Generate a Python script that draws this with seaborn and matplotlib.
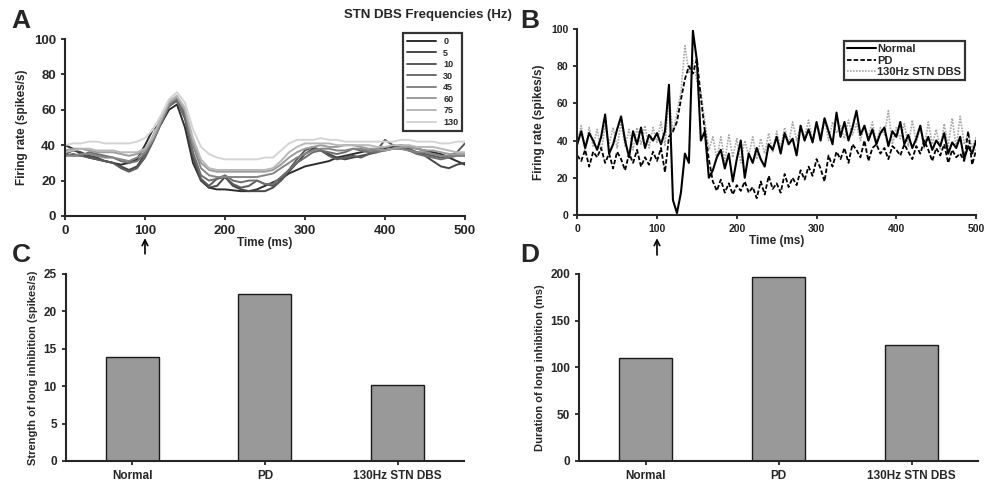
import numpy as np
import pandas as pd
import seaborn as sns
import matplotlib.pyplot as plt
from matplotlib.lines import Line2D

# ---- panel A: mean firing rate per STN DBS frequency (sampled every 10 ms)
t_a = list(range(0, 501, 10))
freqs = ['0', '5', '10', '30', '45', '60', '75', '130']
rate_0 = [40, 38, 35, 33, 32, 31, 30, 29, 30, 32, 40, 49, 52, 60, 63, 50, 30, 20, 16, 15, 15, 14.5, 14, 14, 15, 17,
          19, 21, 24, 26, 28, 29, 30, 31, 33, 34, 35, 36, 37, 38, 39, 39, 40, 39, 38, 37, 36, 35, 33, 31, 29]
rate_5 = [35, 37, 36, 34, 33, 31, 30, 28, 26, 28, 35, 45, 55, 63, 65, 55, 33, 20, 16, 17, 22, 17, 15, 14, 14, 14,
          16, 20, 25, 30, 35, 38, 37, 35, 33, 32, 33, 34, 35, 36, 38, 40, 39, 37, 36, 34, 31, 28, 27, 29, 30]
rate_10 = [34, 35, 34, 33, 32, 31, 30, 27, 25, 27, 33, 42, 52, 62, 66, 57, 35, 21, 17, 21, 22, 18, 16, 17, 20, 18,
           17, 20, 26, 32, 37, 39, 37, 34, 32, 33, 34, 33, 35, 37, 43, 40, 38, 38, 36, 35, 34, 33, 34, 36, 41]
rate_30 = [35, 34, 34, 36, 35, 34, 33, 31, 30, 31, 35, 43, 53, 62, 65, 56, 36, 23, 20, 21, 23, 20, 19, 20, 20, 18,
           18, 22, 26, 30, 33, 36, 37, 36, 35, 36, 38, 37, 36, 36, 37, 38, 38, 37, 35, 34, 33, 32, 33, 34, 34]
rate_45 = [34, 34, 35, 35, 34, 33, 33, 32, 31, 33, 36, 43, 53, 63, 67, 59, 40, 27, 23, 22, 22, 22, 22, 22, 22, 23,
           24, 27, 30, 33, 35, 37, 38, 38, 37, 37, 38, 38, 37, 37, 37, 38, 38, 37, 36, 36, 35, 34, 34, 34, 34]
rate_60 = [37, 38, 38, 37, 36, 36, 36, 35, 34, 35, 37, 44, 54, 64, 67, 60, 42, 30, 26, 25, 25, 25, 25, 25, 25, 25,
           26, 29, 33, 36, 38, 39, 40, 39, 39, 40, 40, 39, 38, 38, 37, 38, 39, 39, 38, 37, 37, 36, 35, 35, 35]
rate_75 = [36, 37, 38, 38, 37, 37, 37, 36, 36, 36, 38, 45, 55, 65, 68, 61, 44, 32, 27, 26, 26, 26, 26, 26, 26, 26,
           27, 31, 36, 39, 41, 41, 41, 41, 40, 40, 40, 40, 40, 39, 39, 40, 40, 40, 39, 39, 39, 38, 37, 36, 36]
rate_130 = [40, 41, 41, 42, 42, 41, 41, 41, 41, 42, 44, 49, 57, 66, 70, 64, 49, 39, 35, 33, 32, 32, 32, 32, 32, 33,
            33, 37, 41, 43, 43, 43, 44, 43, 43, 42, 42, 42, 42, 42, 42, 42, 43, 43, 42, 42, 42, 41, 41, 42, 42]
rates_a = [rate_0, rate_5, rate_10, rate_30, rate_45, rate_60, rate_75, rate_130]
grays = ['#2e2e2e', '#474747', '#5a5a5a', '#6e6e6e', '#858585', '#9c9c9c', '#b8b8b8', '#d4d4d4']

# ---- panel B: single examples (sampled every 5 ms)
t_b = list(range(0, 501, 5))
normal = [38, 45, 36, 44, 40, 35, 42, 54, 33, 38, 46, 53, 40, 31, 45, 38, 47, 36, 43, 40, 44, 38, 45, 70, 8, 1,
          12, 33, 28, 99, 83, 40, 45, 20, 24, 31, 35, 25, 33, 18, 30, 40, 20, 33, 28, 36, 30, 26, 38, 35, 42,
          33, 44, 38, 41, 32, 48, 40, 46, 39, 50, 40, 52, 45, 38, 55, 42, 50, 40, 47, 56, 43, 48, 40, 46, 38,
          44, 47, 37, 45, 42, 50, 38, 43, 36, 41, 48, 37, 42, 35, 40, 37, 44, 33, 39, 36, 42, 30, 37, 33, 40]
pd_rate = [32, 29, 35, 26, 34, 31, 36, 28, 33, 25, 34, 30, 24, 33, 28, 35, 26, 31, 27, 34, 29, 36, 23, 42, 45, 50,
           62, 73, 80, 76, 84, 63, 45, 30, 18, 13, 19, 12, 17, 11, 16, 13, 18, 12, 15, 9, 18, 11, 21, 14, 17,
           12, 22, 15, 20, 16, 24, 19, 26, 21, 30, 25, 18, 32, 26, 34, 30, 36, 28, 38, 35, 31, 40, 29, 36, 38,
           33, 36, 30, 37, 35, 32, 38, 34, 30, 37, 33, 40, 35, 29, 36, 32, 38, 28, 35, 31, 33, 29, 45, 27, 35]
dbs_rate = [38, 48, 35, 47, 37, 46, 34, 48, 38, 47, 36, 50, 37, 46, 35, 47, 38, 48, 36, 47, 39, 50, 37, 64, 44, 55,
            66, 91, 76, 83, 72, 66, 50, 35, 42, 30, 42, 29, 43, 31, 41, 28, 40, 32, 42, 30, 41, 33, 44, 34, 45,
            36, 47, 38, 50, 40, 48, 42, 51, 40, 49, 43, 52, 40, 50, 44, 48, 41, 51, 43, 49, 40, 48, 42, 50, 39,
            47, 43, 56, 38, 47, 41, 49, 37, 51, 39, 47, 36, 50, 38, 46, 35, 49, 37, 52, 36, 53, 38, 44, 36, 42]

# ---- panels C / D
groups = ['Normal', 'PD', '130Hz STN DBS']
strength = [13.9, 22.3, 10.1]
duration = [110, 197, 124]

sns.set_style('ticks')
plt.rcParams['font.family'] = ['Liberation Sans', 'DejaVu Sans']
plt.rcParams['font.weight'] = 'bold'
plt.rcParams['axes.labelweight'] = 'bold'
plt.rcParams['axes.linewidth'] = 1.5
plt.rcParams['xtick.major.width'] = 1.3
plt.rcParams['ytick.major.width'] = 1.3
plt.rcParams['xtick.major.size'] = 3
plt.rcParams['ytick.major.size'] = 3

fig = plt.figure(figsize=(9.85, 4.82), dpi=100)
ax_a = fig.add_axes([0.066, 0.552, 0.406, 0.367])
ax_b = fig.add_axes([0.586, 0.554, 0.405, 0.386])
ax_c = fig.add_axes([0.067, 0.0436, 0.404, 0.388])
ax_d = fig.add_axes([0.588, 0.0436, 0.405, 0.388])

# A
df_a = pd.DataFrame({'t': t_a * len(freqs),
                     'rate': sum(rates_a, []),
                     'freq': sum([[f] * len(t_a) for f in freqs], [])})
sns.lineplot(data=df_a, x='t', y='rate', hue='freq', palette=grays, linewidth=1.4,
             ax=ax_a, legend=False)
ax_a.set_xlim(0, 500)
ax_a.set_ylim(0, 100)
ax_a.set_xticks([0, 100, 200, 300, 400, 500])
ax_a.set_yticks([0, 20, 40, 60, 80, 100])
ax_a.tick_params(labelsize=9.5)
ax_a.set_xlabel('Time (ms)', fontsize=8.5, labelpad=0)
ax_a.set_ylabel('Firing rate (spikes/s)', fontsize=8.5)
handles = [Line2D([], [], color=c, lw=1.4) for c in grays]
leg = ax_a.legend(handles, freqs, loc='upper right', bbox_to_anchor=(1.005, 1.06),
                  fontsize=6.5, handlelength=3.2, labelspacing=0.28, fancybox=False,
                  edgecolor='black', borderpad=0.45)
leg.get_frame().set_linewidth(1.6)
fig.text(0.434, 0.968, 'STN DBS Frequencies (Hz)', ha='center', va='center', fontsize=9.5, fontweight='bold')

# B
df_b = pd.DataFrame({'t': t_b * 3,
                     'rate': normal + pd_rate + dbs_rate,
                     'cond': ['Normal'] * len(t_b) + ['PD'] * len(t_b) + ['130Hz STN DBS'] * len(t_b)})
styles_b = {'Normal': ('black', '-', 1.5), 'PD': ('black', (0, (2.5, 1.2)), 1.3),
            '130Hz STN DBS': ('#a8a8a8', (0, (1, 0.8)), 1.2)}
for cond in ['130Hz STN DBS', 'PD', 'Normal']:
    c, ls, lw = styles_b[cond]
    sub = df_b[df_b['cond'] == cond]
    sns.lineplot(data=sub, x='t', y='rate', color=c, linestyle=ls, linewidth=lw, ax=ax_b)
ax_b.set_xlim(0, 500)
ax_b.set_ylim(0, 100)
ax_b.set_xticks([0, 100, 200, 300, 400, 500])
ax_b.set_yticks([0, 20, 40, 60, 80, 100])
ax_b.tick_params(labelsize=7.5, colors='#222222')
ax_b.set_xlabel('Time (ms)', fontsize=8.5, labelpad=1)
ax_b.set_ylabel('Firing rate (spikes/s)', fontsize=8.5)
handles_b = [Line2D([], [], color=styles_b[k][0], ls=styles_b[k][1], lw=styles_b[k][2]) for k in groups]
leg_b = ax_b.legend(handles_b, groups, loc='upper right', bbox_to_anchor=(0.985, 0.965),
                    fontsize=8, handlelength=2.6, handletextpad=0.1, labelspacing=0.12,
                    fancybox=False, edgecolor='black', borderpad=0.3)
leg_b.get_frame().set_linewidth(1.6)

# arrows marking stimulus
for ax in (ax_a, ax_b):
    ax.annotate('', xy=(100, -0.11), xytext=(100, -0.23),
                xycoords=('data', 'axes fraction'), textcoords=('data', 'axes fraction'),
                arrowprops=dict(arrowstyle='->', color='black', lw=1.2))

# C / D
for ax, vals, lab, top, step in [(ax_c, strength, 'Strength of long inhibition (spikes/s)', 25, 5),
                                 (ax_d, duration, 'Duration of long inhibition (ms)', 200, 50)]:
    sns.barplot(x=groups, y=vals, color='#999999', edgecolor='#1a1a1a', linewidth=1.0,
                width=0.4, saturation=1, ax=ax)
    ax.set_xlim(-0.5, 2.5)
    ax.set_ylim(0, top)
    ax.set_yticks(np.arange(0, top + 1, step))
    ax.tick_params(axis='x', labelsize=8.5)
    ax.tick_params(axis='y', labelsize=8.5)
    ax.set_ylabel(lab, fontsize=8)

sns.despine(fig=fig)

for x, y, s in [(0.012, 0.957, 'A'), (0.528, 0.957, 'B'), (0.012, 0.47, 'C'), (0.528, 0.47, 'D')]:
    fig.text(x, y, s, fontsize=19, fontweight='bold', va='center')

fig.savefig('out.png', dpi=100)
